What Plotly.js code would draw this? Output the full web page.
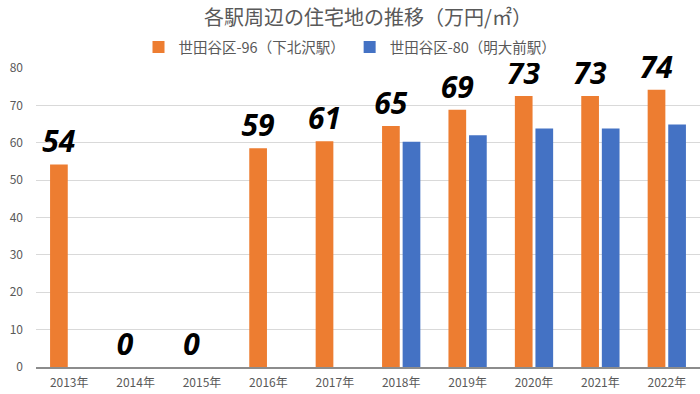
<!DOCTYPE html>
<html>
<head>
<meta charset="utf-8">
<script src="https://cdn.plot.ly/plotly-3.0.1.min.js"></script>
<style>html,body{margin:0;padding:0;background:#fff;}#chart{width:700px;height:394px;}</style>
</head>
<body>
<div id="chart"></div>
<script>
const years = ["2013年","2014年","2015年","2016年","2017年","2018年","2019年","2020年","2021年","2022年"];
const shimokitazawa = [54.2, 0, 0, 58.5, 60.4, 64.5, 68.8, 72.5, 72.5, 74.2];
const shimokitazawaLabels = ["54","0","0","59","61","65","69","73","73","74"];
const meidaimae = [null, null, null, null, null, 60.3, 62.0, 63.8, 63.8, 64.9];
const seriesNames = ["世田谷区-96（下北沢駅）", "世田谷区-80（明大前駅）"];
const chartTitle = "各駅周辺の住宅地の推移（万円/㎡）";

const cjk = '"Noto Sans CJK JP", "Noto Sans", sans-serif';

const traces = [
  {
    type: 'bar', name: seriesNames[0], x: years, y: shimokitazawa,
    marker: {color: '#ED7D31', line: {width: 0}},
    text: shimokitazawaLabels, textposition: 'outside', cliponaxis: false,
    constraintext: 'none',
    textfont: {family: '"Open Sans", sans-serif', size: 30, color: '#000', weight: 'bold', style: 'italic'},
    hoverinfo: 'skip'
  },
  {
    type: 'bar', name: seriesNames[1], x: years, y: meidaimae,
    marker: {color: '#4472C4', line: {width: 0}},
    hoverinfo: 'skip'
  }
];

const layout = {
  width: 700, height: 394,
  margin: {l: 36, r: 0, t: 68, b: 27, autoexpand: false},
  paper_bgcolor: '#fff', plot_bgcolor: '#fff',
  font: {family: cjk, color: '#595959', size: 12},
  title: {text: chartTitle, x: 0.5, xref: 'paper', xanchor: 'center', y: 1 - 18/394, yref: 'container', yanchor: 'middle',
          font: {family: cjk, size: 20, color: '#595959'}},
  barmode: 'group', bargap: 0.38, bargroupgap: 0.14,
  showlegend: true,
  legend: {orientation: 'h', x: 0.5, xref: 'container', xanchor: 'center', y: 1 - 47/394, yref: 'container', yanchor: 'middle',
           font: {family: cjk, size: 14.5, color: '#595959'}, itemwidth: 30, traceorder: 'normal'},
  xaxis: {type: 'category', showgrid: false, showline: true, linecolor: '#8c8c8c', linewidth: 1.5,
          tickfont: {family: cjk, size: 12, color: '#595959'}, ticks: '', ticklabelstandoff: 4, fixedrange: true},
  yaxis: {range: [0, 80], dtick: 10, showgrid: true, gridcolor: '#d9d9d9', gridwidth: 1, zeroline: false,
          showline: false, ticks: '', tickfont: {family: cjk, size: 12, color: '#595959'}, ticklabelstandoff: 12, fixedrange: true}
};

Plotly.newPlot('chart', traces, layout, {staticPlot: true, displayModeBar: false});
</script>
</body>
</html>
